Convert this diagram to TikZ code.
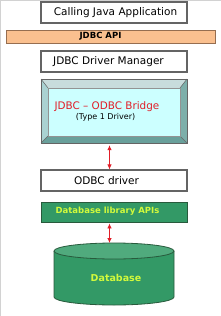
\documentclass[tikz,border=0pt]{standalone}
\usepackage{fontspec}
\setmainfont{DejaVu Sans}
\usetikzlibrary{arrows.meta}
\definecolor{boxline}{RGB}{100,100,100}
\definecolor{apifill}{RGB}{250,192,143}
\definecolor{apiline}{RGB}{150,110,80}
\definecolor{greenfill}{RGB}{51,153,102}
\definecolor{greentop}{RGB}{80,170,125}
\definecolor{greenline}{RGB}{40,90,60}
\definecolor{ytext}{RGB}{210,250,60}
\definecolor{redtext}{RGB}{225,30,40}
\definecolor{face}{RGB}{204,255,255}
\definecolor{bevtop}{RGB}{200,220,220}
\definecolor{bevleft}{RGB}{170,210,210}
\definecolor{bevbottom}{RGB}{105,160,155}
\definecolor{bevright}{RGB}{125,175,170}
\definecolor{framegray}{RGB}{210,210,210}
\tikzset{
  box/.style={draw=boxline, line width=1.1pt, fill=white, minimum width=146pt,
    minimum height=21pt, inner sep=0pt},
  boxtext/.style={inner sep=0pt, font=\fontsize{10.5}{12}\selectfont},
  apibar/.style={draw=apiline, line width=0.9pt, fill=apifill, minimum width=209pt,
    minimum height=13pt, inner sep=0pt},
  greenbox/.style={draw=greenline, line width=0.9pt, fill=greenfill, minimum width=146pt,
    minimum height=20pt, inner sep=0pt},
  arr/.style={draw=redtext, line width=0.8pt, {Latex[length=5pt,width=4.5pt]}-{Latex[length=5pt,width=4.5pt]}},
}
\begin{document}
\begin{tikzpicture}[x=1pt,y=-1pt]
\useasboundingbox (0,0) rectangle (221,316);
\fill[white] (0,0) rectangle (221,316);
\draw[framegray, line width=1pt] (0.5,316) -- (0.5,0.5) -- (221,0.5);

\node[box] (app) at (114,12.5) {};
\node[boxtext] (apptext) at (115.5,12.5) {Calling Java Application};
\node[apibar] (api) at (110.5,36.5) {};
\node[inner sep=0pt, font=\fontsize{8.5}{10}\selectfont\bfseries] (apitext) at (100.5,36.5) {JDBC API};
\node[box] (dm) at (114,61.5) {};
\node[boxtext] (dmtext) at (108.5,61.5) {JDBC Driver Manager};

% bevelled bridge box
\fill[bevtop] (41,79) -- (187,79) -- (180,88) -- (48,88) -- cycle;
\fill[bevleft] (41,79) -- (48,88) -- (48,136) -- (41,143) -- cycle;
\fill[bevbottom] (41,143) -- (187,143) -- (180,136) -- (48,136) -- cycle;
\fill[bevright] (187,79) -- (187,143) -- (180,136) -- (180,88) -- cycle;
\fill[face] (48,88) rectangle (180,136);
\draw[boxline, line width=0.5pt] (41,79) -- (48,88) (187,79) -- (180,88)
  (41,143) -- (48,136) (187,143) -- (180,136);
\draw[boxline!70, line width=0.5pt] (48,88) rectangle (180,136);
\draw[boxline, line width=1pt] (41,79) rectangle (187,143);
\node[minimum width=146pt, minimum height=64pt, inner sep=0pt] (bridge) at (114,111) {};
\node[text=redtext, font=\fontsize{10.4}{12}\selectfont, inner sep=0pt] (bridgetitle) at (107,107) {JDBC – ODBC Bridge};
\node[font=\fontsize{8}{9}\selectfont, inner sep=0pt] (bridgesub) at (105.5,117.5) {(Type 1 Driver)};

\node[box] (odbc) at (114,180.5) {};
\node[boxtext] (odbctext) at (106.5,180.5) {ODBC driver};
\node[greenbox] (dbapi) at (114,212) {};
\node[text=ytext, inner sep=0pt, font=\fontsize{8.5}{10}\selectfont\bfseries] (dbapitext) at (107.5,211.5) {Database library APIs};

% database cylinder
\fill[greenfill] (54,251) -- (54,297) arc[start angle=180, end angle=360, x radius=60, y radius=-8] -- (174,251) -- cycle;
\draw[greenline, line width=0.8pt] (54,251) -- (54,297) arc[start angle=180, end angle=360, x radius=60, y radius=-8] -- (174,251);
\draw[greenline, line width=0.8pt, fill=greentop] (114,251) ellipse[x radius=60, y radius=8];
\coordinate (dbtop) at (109.5,243);
\node[text=ytext, font=\fontsize{9.5}{11}\selectfont\bfseries, inner sep=0pt] (db) at (116,278) {Database};

\draw[arr, shorten <=2pt] ([xshift=-4.5pt]bridge.south) -- ([xshift=-4.5pt]odbc.north);
\draw[arr, shorten <=1pt] ([xshift=-4.5pt]dbapi.south) -- (dbtop);
\end{tikzpicture}
\end{document}
